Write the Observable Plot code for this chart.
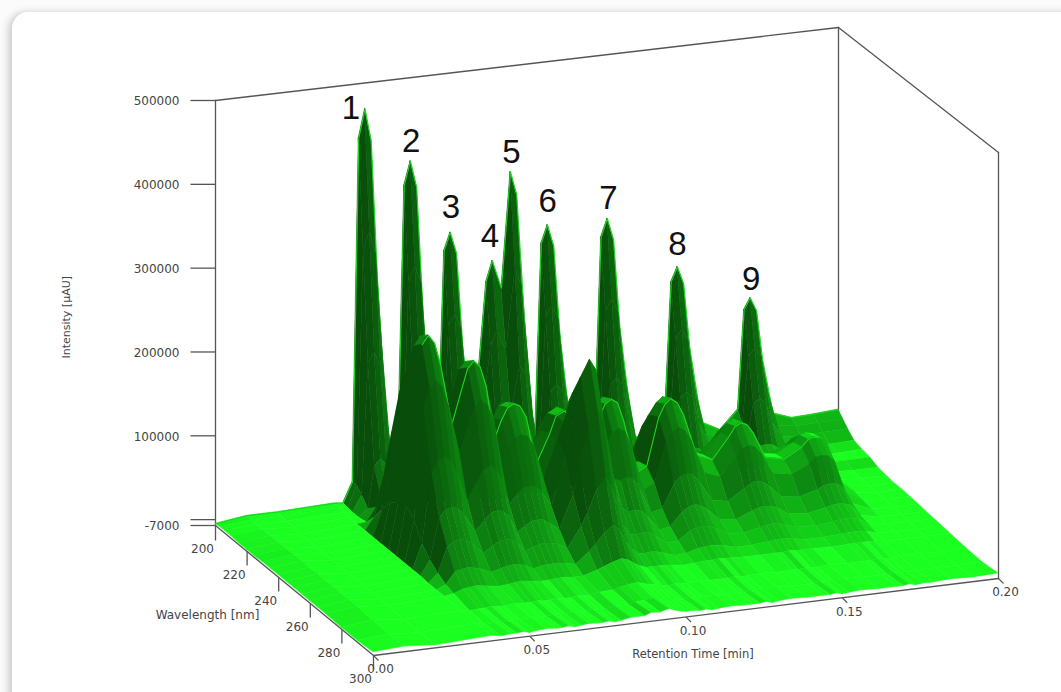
<!DOCTYPE html>
<html>
<head>
<meta charset="utf-8">
<script src="https://cdn.jsdelivr.net/npm/d3@7"></script>
<script src="https://cdn.jsdelivr.net/npm/@observablehq/plot@0.6"></script>
<style>
html,body{margin:0;padding:0;width:1061px;height:692px;overflow:hidden;background:#fbfbfb}
#card{position:absolute;left:12px;top:12px;width:1200px;height:900px;background:#fff;border-radius:16px;box-shadow:-3px 1px 9px rgba(0,0,0,.22)}
#chart{position:absolute;left:0;top:0}
svg{background:transparent!important;display:block}
</style>
</head>
<body>
<div id="card"></div>
<div id="chart"></div>
<script>
// Retention-time knots (min) of the surface table
const times=[0,.01,.02,.038,.041, .044,.046,.048,.05,.052,.0555, .0586,.0606,.0626,.0646,.0666, .069, .0714,.0734,.0754,.0774,.0794, .0825, .0869,.0889,.0918, .0947,.0967,.0987, .1005, .1026,.1046,.1066,.1086,.1106, .1145,.118, .1218,.1238,.1258,.1278,.1298, .134,.139, .1443,.1463,.1483,.1503,.1523, .156,.162, .1677,.1697,.1717,.1737,.1757, .179,.185,.192,.2];
// Intensity (thousand µAU) read along each wavelength slice
const w200=[-5,0,0,2,1, 25,435,469,430,265,35, 60,372,400,368,220, 55, 50,288,309,283,170, 55, 245,269,235, 373,345,225, 110, 55,283,304,278,170, 40,22, 60,282,303,277,172, 40,28, 60,218,235,214,135, 45,33, 55,174,187,171,110, 45,37,38,40];
const w203=[-4,-1,-1,1,0, 25,305,328,298,186,25, 45,260,280,258,155, 40, 36,202,216,198,120, 40, 172,190,165, 261,240,158, 80, 42,198,213,195,120, 28,18, 45,197,212,194,122, 30,25, 46,152,165,150,95, 35,28, 42,122,131,120,78, 35,31,32,33];
const w206=[-4,-2,-2,0,-1, 18,174,188,170,106,14, 28,148,160,146,88, 24, 22,115,124,113,68, 22, 98,110,94, 150,138,90, 46, 26,113,122,111,68, 18,14, 28,113,121,111,70, 20,19, 30,87,94,86,55, 24,22, 28,70,75,69,45, 26,24,25,26];
const w210=[-4,-1,-3,0,-1, 8,58,66,58,34,6, 14,50,56,49,30, 9, 12,39,43,38,24, 9, 33,39,34, 52,48,34, 18, 14,39,43,38,24, 9,8, 16,39,43,38,26, 11,11, 18,31,33,31,22, 14,14, 17,25,26,25,20, 17,16,17,18];
const w215=[-5,-1,-4,0,1, 17,21,24,21,17,12, 14,17,20,17,14, 10, 12,14,15,13,11, 9, 11,13,14, 13,11,10, 10, 12,14,15,14,11, 9,9, 12,14,15,14,12, 10,9, 11,12,13,12,11, 10,9, 10,11,12,11,10, 12,13,14,15];
const w220=[-5,-1,-4,0,15, 62,70,73,70,62,42, 53,60,62,60,53, 35, 41,45,46,45,41, 25, 35,41,42, 38,32,27, 27, 38,43,44,43,36, 21,23, 36,40,42,40,36, 25,24, 30,34,37,34,30, 25,24, 27,29,30,29,27, 17,13,13,13];
const w225=[-5,-1,-4,0,32, 122,138,143,138,122,83, 105,118,123,118,105, 69, 81,89,91,89,81, 50, 69,80,84, 76,62,50, 50, 74,84,86,84,72, 38,42, 70,79,82,79,70, 46,42, 52,60,63,60,52, 39,36, 42,46,47,46,42, 18,10,9,9];
const w230=[-4,0,-4,0,48, 178,200,208,200,178,120, 152,172,178,172,152, 100, 118,130,133,130,118, 72, 100,116,122, 108,88,72, 72, 108,122,126,122,104, 55,60, 102,114,119,114,102, 65,58, 76,85,90,85,76, 54,49, 58,65,67,65,58, 24,9,7,7];
const w235=[-4,0,-4,0,55, 213,240,250,240,213,144, 182,206,214,206,182, 120, 142,156,159,156,142, 86, 120,140,146, 125,100,82, 85, 130,146,151,146,125, 63,69, 123,137,143,137,123, 75,67, 91,102,106,102,91, 62,58, 69,77,79,77,69, 27,9,6,6];
const w240=[-4,0,-4,0,60, 222,250,260,250,222,150, 190,215,223,215,190, 125, 148,162,166,162,148, 90, 125,145,150, 130,105,85, 90, 135,152,157,152,130, 65,72, 128,143,149,143,128, 78,70, 95,106,110,106,95, 65,60, 72,80,82,80,72, 28,9,6,6];
const w245=[-4,0,-4,0,50, 182,205,213,205,182,123, 156,176,183,176,156, 103, 121,133,136,133,121, 80, 125,145,178, 195,178,125, 85, 111,125,129,125,107, 53,59, 105,117,122,117,105, 64,57, 78,87,90,87,78, 53,49, 59,66,67,66,59, 23,7,5,5];
const w250=[-4,0,-4,0,30, 111,125,130,125,111,75, 95,108,112,108,95, 63, 74,81,83,81,74, 55, 110,160,205, 225,212,160, 95, 78,76,79,76,65, 33,36, 64,72,75,72,64, 39,35, 48,53,55,53,48, 33,30, 36,40,41,40,36, 14,5,4,4];
const w255=[-4,0,-4,0,18, 67,75,78,75,67,45, 57,65,67,65,57, 38, 44,49,50,49,44, 35, 75,110,150, 172,158,115, 70, 52,46,47,46,39, 20,22, 38,43,45,43,38, 23,21, 29,32,33,32,29, 20,18, 22,24,25,24,22, 8,3,3,3];
const w260=[-4,0,-4,-1,10, 40,45,47,45,40,27, 34,39,40,39,34, 23, 27,29,30,29,27, 20, 45,60,85, 100,88,62, 40, 28,27,28,27,23, 12,13, 23,26,27,26,23, 14,13, 17,19,20,19,17, 12,11, 13,15,15,15,13, 5,2,2,2];
const w265=[-4,0,-4,-1,4, 18,20,21,20,18,12, 15,17,18,17,15, 10, 12,13,13,13,12, 9, 22,30,42, 50,44,30, 20, 13,12,13,12,10, 5,6, 10,11,12,11,10, 6,6, 8,9,9,9,8, 5,5, 6,7,7,7,6, 2,1,1,1];
const w270=[-4,0,-4,-1,1, 5,6,7,6,5,3, 4,5,6,5,4, 3, 3,4,4,4,3, 3, 8,11,15, 18,16,11, 7, 4,4,4,4,3, 1,2, 3,3,4,3,3, 2,2, 2,2,3,2,2, 2,1, 2,2,2,2,2, 0,0,0,0];
const w280=[-5,-1,-5,-2,-4, -3,-3,-2,-3,-3,-2, -3,-3,-2,-3,-3, -2, -3,-3,-2,-3,-3, -1, 0,2,4, 5,3,1, 0, -2,-3,-2,-3,-3, -2,-3, -3,-3,-2,-3,-3, -2,-3, -3,-3,-2,-3,-3, -2,-3, -3,-3,-2,-3,-3, -3,-2,-3,-2];
const w290=[-5,-2,-5,-2,-5, -4,-4,-3,-4,-4,-3, -4,-4,-3,-4,-4, -3, -4,-4,-3,-4,-4, -2, -2,0,1, 2,1,-1, -2, -3,-4,-3,-4,-4, -3,-4, -4,-4,-3,-4,-4, -3,-4, -4,-4,-3,-4,-4, -3,-4, -4,-4,-3,-4,-4, -4,-3,-4,-3];
const w300=[-3,-1,-4,-1,-3, -2,-2,-1,-3,-2,-1, -2,-2,-1,-3,-2, -1, -2,-2,-1,-3,-2, 0, 0,3,2, 5,2,0, -1, -1,-2,-1,-3,-2, -1,-2, -2,-2,-1,-3,-2, -1,-2, -2,-2,-1,-3,-2, -1,-2, -2,-2,-1,-3,-2, -2,-1,-2,-1];
const wavelengths=[200,203,206,210,215,220,225,230,235,240,245,250,255,260,265,270,280,290,300];
const slices=[w200,w203,w206,w210,w215,w220,w225,w230,w235,w240,w245,w250,w255,w260,w265,w270,w280,w290,w300];
// Axis ticks
const intensityTicks=[-7000,0,100000,200000,300000,400000,500000];
const intensityLabels=[-7000,100000,200000,300000,400000,500000];
const wavelengthTicks=[220,240,260,280];
const wavelengthLabels=[200,220,240,260,280,300];
const timeTicks=[.05,.10,.15,.20];
const timeLabels=[0,.05,.10,.15,.20];
// Numbered peaks: label text, time and the height (thousand µAU) the number sits at
const peakNames=["1","2","3","4","5","6","7","8","9"];
const peakTimes=[.0435,.0628,.0756,.0881,.0950,.1066,.1261,.1483,.1720];
const peakLabelAt=[472,423,339,299,396,332,327,262,209];

// The chart's box on screen: the eight corners of the 3D frame
const box={
  bl:[215,525],fl:[373,655],fr:[998,578],br:[838,448],
  tbl:[215,100],tfl:[373,230],tfr:[998,152],tbr:[838,27]
};
const Z0=-7000,Z1=500000;
function project(t,w,z){
  const u=t/.2,v=(w-200)/100,h=(z-Z0)/(Z1-Z0);
  const mix=(a,b,c,d,k)=>{
    const back=a[k]+(d[k]-a[k])*u, front=b[k]+(c[k]-b[k])*u;
    return back+(front-back)*v;
  };
  const low=k=>mix(box.bl,box.fl,box.fr,box.br,k), top=k=>mix(box.tbl,box.tfl,box.tfr,box.tbr,k);
  return [low(0)+(top(0)-low(0))*h, low(1)+(top(1)-low(1))*h];
}
const X=(t,w,z)=>project(t,w,z)[0], Y=(t,w,z)=>project(t,w,z)[1];

const ramp=d3.scaleLinear().domain([0,.08,.25,.5,.8,.95,1]).range(["#084d0a","#0a5c0c","#0c7a0f","#0fa313","#12cc16","#15e01a","#1aff20"]).clamp(true);
function shade(i,j){
  const a=slices[j][i],b=slices[j][i+1],c=slices[j+1][i],d=slices[j+1][i+1];
  const dtPx=(times[i+1]-times[i])*3120, dwPx=(wavelengths[j+1]-wavelengths[j])*2.2;
  const st=(((b+d)-(a+c))/2/1.2)/dtPx, sw=(((c+d)-(a+b))/2/1.2)/dwPx;
  const n=1/Math.sqrt(1+st*st*1.2+sw*sw*2.4);
  return ramp(n*(1-.32*st)+.02);
}
function strip(j){
  const out=[];
  for(let i=times.length-2;i>=0;i--){
    const c=shade(i,j);
    for(const k of [i,i+1]){
      const p=project(times[k],wavelengths[j],slices[j][k]*1000);
      const q=project(times[k],wavelengths[j+1],slices[j+1][k]*1000);
      out.push({q:i,x1:p[0],y1:p[1],x2:q[0],y2:q[1],c});
    }
  }
  return out;
}
// Bright rim along the slice that carries the crest of each band
const ridge=(j,from,to)=>times.map((t,k)=>({x:X(t,wavelengths[j],slices[j][k]*1000),y:Y(t,wavelengths[j],slices[j][k]*1000),t})).filter(d=>d.t>=from&&d.t<=to);
const ridgeRows=new Map([[0,[0,.2]],[9,[.046,.175]]]);
const surfaceMarks=slices.slice(0,-1).flatMap((_,j)=>{
  const m=[Plot.area(strip(j),{x1:"x1",y1:"y1",x2:"x2",y2:"y2",z:"q",fill:"c",stroke:"c",strokeWidth:.5})];
  if(ridgeRows.has(j)) m.push(Plot.line(ridge(j,...ridgeRows.get(j)),{x:"x",y:"y",stroke:"#1fd425",strokeWidth:1.1}));
  return m;
});
const AX="#555";
const font="DejaVu Sans, sans-serif";
const seg=(a,b)=>[a,b];
const frame=[
  seg([0,200,Z1],[.2,200,Z1]),
  seg([.2,200,Z1],[.2,300,Z1]),
  seg([.2,200,Z0],[.2,200,Z1]),
  seg([.2,300,Z0],[.2,300,Z1]),
  seg([0,200,Z0],[0,200,Z1]),
  seg([0,200,Z0],[0,300,Z0]),
  seg([0,300,Z0],[.2,300,Z0])
];
const segs=frame.flatMap((s,i)=>s.map(p=>({i,x:X(...p),y:Y(...p)})));

const plot=Plot.plot({
  width:1061,height:692,margin:0,
  style:{background:"transparent",fontFamily:font},
  x:{domain:[0,1061],range:[0,1061],axis:null},
  y:{domain:[0,692],range:[0,692],axis:null},
  color:{type:"identity"},
  marks:[
    Plot.line(segs,{x:"x",y:"y",z:"i",stroke:AX,strokeWidth:1.3}),
    // intensity ticks
    Plot.link(intensityTicks,{x1:d=>X(0,200,d)-25,x2:d=>X(0,200,d),y1:d=>Y(0,200,d),y2:d=>Y(0,200,d),stroke:AX,strokeWidth:1.3}),
    Plot.link([Z0],{x1:d=>X(0,200,d),x2:d=>X(0,200,d),y1:d=>Y(0,200,d),y2:d=>Y(0,200,d)+15,stroke:AX,strokeWidth:1.3}),
    Plot.text(intensityLabels,{x:d=>X(0,200,d),y:d=>Y(0,200,d),dx:-36,dy:1,textAnchor:"end",text:d=>String(d),fontSize:12,fill:"#444"}),
    // wavelength ticks and labels
    Plot.link(wavelengthTicks.concat([300]),{x1:d=>X(0,d,Z0),x2:d=>X(0,d,Z0),y1:d=>Y(0,d,Z0),y2:d=>Y(0,d,Z0)+14,stroke:AX,strokeWidth:1.3}),
    Plot.text(wavelengthLabels,{x:d=>X(0,d,Z0),y:d=>Y(0,d,Z0),dx:-13,dy:24,text:String,fontSize:12,fill:"#444"}),
    Plot.text(["Wavelength [nm]"],{x:()=>X(0,250,Z0),y:()=>Y(0,250,Z0),dx:-87,dy:25,fontSize:12,fill:"#444"}),
    // time ticks and labels
    Plot.link(timeTicks.concat([0]),{x1:d=>X(d,300,Z0),y1:d=>Y(d,300,Z0),x2:d=>X(d,300,Z0)+5,y2:d=>Y(d,300,Z0)+5,stroke:AX,strokeWidth:1.1}),
    Plot.text(timeLabels,{x:d=>X(d,300,Z0),y:d=>Y(d,300,Z0),dx:7,dy:14,text:d=>d.toFixed(2),fontSize:12,fill:"#444"}),
    Plot.text(["Retention Time [min]"],{x:()=>X(.1,300,Z0),y:()=>Y(.1,300,Z0),dx:7,dy:37,fontSize:11.5,fill:"#444"}),
    Plot.text(["Intensity [µAU]"],{x:()=>X(0,200,245000),y:()=>Y(0,200,245000),dx:-149,dy:3,rotate:-90,fontSize:11,fill:"#444"}),
    // surface, far strips first
    ...surfaceMarks,
    // peak numbers
    Plot.text(peakNames,{x:(d,i)=>X(peakTimes[i],200,0),y:(d,i)=>Y(peakTimes[i],200,peakLabelAt[i]*1000),text:d=>d,fontSize:33,fontFamily:"Liberation Sans, Arial, sans-serif",fill:"#111"})
  ]
});
document.getElementById("chart").appendChild(plot);
</script>
</body>
</html>
